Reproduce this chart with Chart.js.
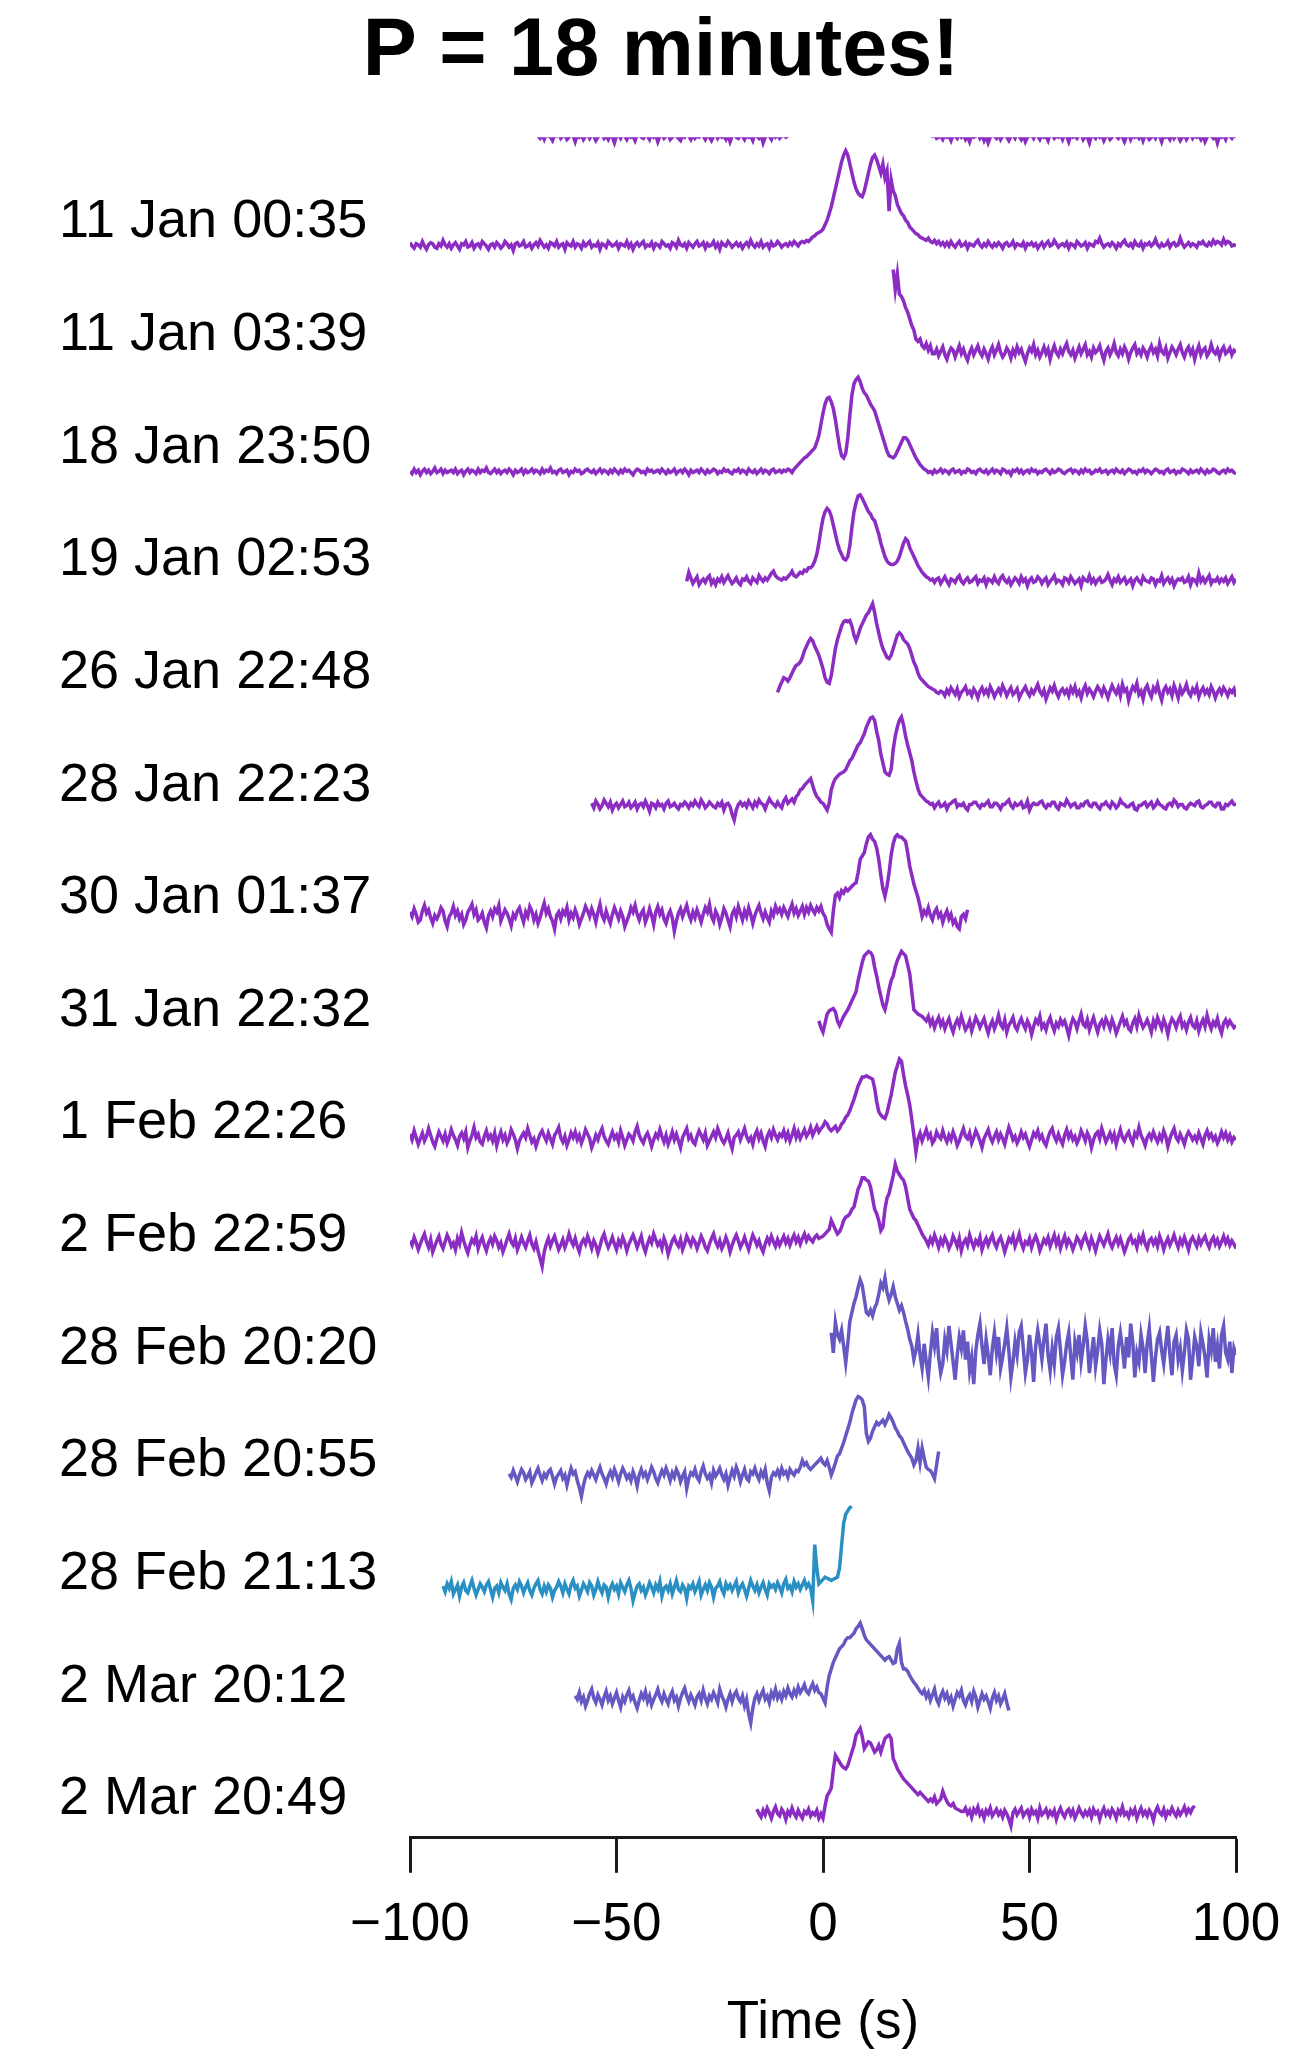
<!DOCTYPE html>
<html lang="en">
<head>
    <meta charset="UTF-8">
    <title>P = 18 minutes!</title>
    <script src="https://cdn.jsdelivr.net/npm/chart.js"></script>
    <style>
        html, body { margin: 0; padding: 0; background: #fff; }
        .wrap { width: 1307px; height: 2055px; }
    </style>
</head>
<body>
    <div class="wrap"><canvas id="pulseChart"></canvas></div>

    <script>
        // one label per observed pulse, top to bottom
        const rowLabels = [
            '11 Jan 00:35', '11 Jan 03:39', '18 Jan 23:50', '19 Jan 02:53', '26 Jan 22:48',
            '28 Jan 22:23', '30 Jan 01:37', '31 Jan 22:32', '1 Feb 22:26', '2 Feb 22:59',
            '28 Feb 20:20', '28 Feb 20:55', '28 Feb 21:13', '2 Mar 20:12', '2 Mar 20:49'
        ];

        // first sample time (s) of every trace (index 0 is the one cut off at the top)
        const rowStarts = [-69, -100, 17, -100, -33, -11, -56, -100, -1, -100, -100, 2, -76, -92, -60, -16];
        const sampleStep = 0.5; // seconds between samples

        const timeTicks = [-100, -50, 0, 50, 100];

        // flux, in hundredths of the row spacing (one line = 10 s)
        const flux00 = [
            -3,-5,-2,-6,-1,-3,-4,-7,-2,-3,-1,-5,-3,-2,-6,-4,-1,-3,-8,-2,
            -4,-2,-6,-3,-1,-5,-2,-3,-7,-4,-2,-1,-5,-3,-6,-2,-4,-9,-3,-2,
            -5,-1,-3,-6,-2,-4,-3,-7,-2,-1,-4,-5,-2,-3,-6,-1,-4,-2,-8,-3,
            -2,-5,-3,-1,-6,-4,-2,-3,-5,-7,-2,-4,-1,-3,-6,-2,-5,-3,-4,-1,
            -3,-6,-2,-4,-7,-3,-1,-5,-2,-4,-3,-6,-2,-8,-3,-1,-4,-5,-2,-3,
            -6,-2,-4,-3,-7,-1,-3,-5,-2,-9,-4,-2,-3,-6,-1,-4,-2,-5,-3,-2,
            -4,-3,-1,2,5,8,12,16,20,24,28,33,38,42,47,52,56,60,64,68,
            70,72,74,76,78,80,79,76,74,70,68,66,68,72,75,78,80,80,78,76,
            74,70,66,62,58,54,50,46,42,38,34,30,28,25,22,18,16,14,12,10,
            9,8,7,6,5,4,3,2,1,0,-1,-3,-2,-5,-4,-3,-6,-2,-4,-3,
            -7,-2,-3,-5,-1,-4,-2,-6,-3,-8,-2,-4,-3,-1,-5,-2,-7,-3,-9,-4,
            -2,-3,-5,-1,-6,-3,-2,-4,-7,-3,-2,-5,-1,-3,-6,-2,-8,-4,-3,-2,
            -5,-1,-3,-6,-2,-4,-3,-7,-1,-2,-5,-3,-4,-2,-6,-1,-3,-8,-2,-4,
            -3,-5,-2,-1,-6,-3,-4,-9,-2,-3,-5,-1,-4,-2,-7,-3,-2,-6,-4,-1,
            -3,-5,-2,-4,-8,-3,-1,-6,-2,-4,-3,-5,-1,-7,-2,-3,-6,-4,-2,-5,
            -1,-3,-8,-2,-4,-3,-6,-1,-5,-2,-3,-7,-4,-2,-6,-3,-1,-5,-2,-4,
            -3,-6,-2,-8,-4,-1,-3,-5,-2,-9,-3,-4,-2,-6,-1,-3,-5,-2,-4
        ];
        const flux01 = [
            2,-1,-3,1,0,-2,3,-1,-4,0,2,1,-2,-3,1,-1,4,0,-2,1,
            -3,0,2,-1,-4,1,0,3,-2,-1,2,-3,0,1,-2,3,1,-1,-4,0,
            1,-2,2,0,-3,-1,3,1,-2,0,-5,1,2,-1,0,3,-2,-1,1,-3,
            0,2,-1,4,1,-2,0,-3,2,1,-1,3,-2,0,1,-4,2,0,-1,3,
            -2,1,0,-3,2,-1,1,3,-2,0,-1,2,-4,1,0,-2,3,1,-1,0,
            2,-3,1,0,-1,3,-2,1,-4,0,2,-1,1,3,-2,0,-1,2,-3,1,
            0,-2,3,1,-1,0,-3,2,1,-2,4,0,-1,1,-3,2,0,-2,1,3,
            -1,0,2,-3,1,-1,0,3,-2,1,-4,2,0,-1,3,1,-2,0,2,-1,
            1,-3,0,2,-1,4,0,-2,1,-1,3,-2,0,1,-3,2,-1,0,3,1,
            -2,0,1,-1,2,0,3,1,-1,2,3,2,4,3,5,7,8,10,11,12,
            14,18,22,28,34,42,50,58,66,74,80,84,80,72,64,56,50,46,44,43,
            48,56,64,72,78,80,76,70,64,72,60,66,30,58,48,44,36,32,28,26,
            22,20,16,14,12,10,9,7,6,5,4,6,3,2,4,1,3,0,2,-1,
            2,-1,3,0,-2,1,3,-1,0,2,-3,1,0,-1,2,4,0,-2,1,-1,
            3,0,-2,1,-1,2,0,-3,1,2,-1,0,3,-2,1,0,-1,2,-3,1,
            0,2,-1,1,-3,0,2,-2,1,3,-1,0,4,1,-2,0,1,-1,2,-3,
            1,0,-2,3,1,-1,0,2,-3,1,0,-1,3,2,6,1,-2,0,1,-1,
            2,0,-3,1,-1,2,4,0,-1,1,-2,3,0,-1,2,-3,1,0,2,-1,
            1,5,0,-2,1,-1,0,3,-2,1,2,-1,0,6,1,-2,0,2,-1,1,
            0,-2,2,1,3,0,-1,2,0,4,1,3,2,0,5,1,3,2,-1,0,
            -1
        ];
        const flux02 = [
            78,60,74,56,54,50,44,40,34,28,24,16,14,16,10,8,12,6,10,3,
            3,7,1,5,9,2,-2,4,8,6,0,5,10,3,7,1,-3,4,8,2,
            6,10,4,1,7,3,-2,5,9,2,6,11,4,0,3,8,5,-1,6,2,
            9,4,7,1,-4,3,8,5,11,2,6,0,4,9,3,7,-2,5,10,4,
            1,7,3,8,12,5,2,6,-1,4,9,3,7,11,2,5,0,8,4,6,
            10,3,-3,5,8,2,6,12,4,1,7,3,9,5,-2,4,8,11,3,6,
            2,8,5,0,6,10,4,7,1,12,5,3,8,-1,4,9,6,2,7,11,
            4,0,6,9,3,7,-2,5,10,2,6,8,1,4,11,5,3,7,0,6,
            9,3,5,8,2,6,4
        ];
        const flux03 = [
            -2,-4,0,-3,-1,-5,-2,0,-3,-1,-4,-2,1,-3,-2,0,-4,-1,-3,-2,
            -1,-3,0,-4,-2,-1,-5,-2,0,-3,-1,-2,-4,0,-3,-1,-2,1,-3,-4,
            -2,0,-3,-1,-4,-2,-1,-3,0,-2,-5,-1,-3,-2,0,-4,-1,-3,-2,0,
            -3,-1,-2,-4,0,-3,-1,-2,1,-3,-2,-4,-1,0,-3,-2,-1,-5,-2,-3,
            0,-2,-1,-4,-3,-1,0,-2,-3,-1,-4,-2,0,-3,-1,-2,-4,-1,-3,0,
            -2,-4,-1,-3,0,-2,-1,-3,-5,-2,0,-1,-3,-2,-4,0,-2,-1,-3,-2,
            -1,-3,0,-2,-4,-1,-3,-2,0,-4,-2,-1,-3,0,-2,-5,-1,-3,-2,-1,
            -3,0,-2,-4,-1,-3,-2,0,-1,-4,-2,-3,0,-2,-1,-3,-4,-1,-2,0,
            -3,-1,-2,-4,0,-2,-3,-1,-4,-2,0,-3,-1,-2,-4,-1,0,-3,-2,-1,
            -3,-1,-2,0,-1,-3,0,2,4,6,8,10,11,13,15,17,19,24,30,40,
            50,58,63,64,60,54,44,32,20,12,10,14,28,48,66,76,80,82,78,72,
            68,66,62,58,55,52,46,40,34,28,22,16,12,11,10,12,16,20,24,28,
            28,26,22,18,14,10,7,4,2,0,-1,-3,-2,-4,-1,-3,-2,0,-3,-1,
            -2,-4,-1,0,-3,-2,-1,-4,-2,-3,0,-1,-3,-2,-4,-1,0,-2,-3,-1,
            -4,-2,0,-3,-1,-2,-4,0,-1,-3,-2,-5,-1,-2,0,-3,-1,-4,-2,-1,
            -3,0,-2,-1,-4,-2,-3,-1,0,-2,-4,-1,-3,-2,0,-1,-3,-4,-2,-1,
            0,-3,-1,-2,-4,-1,-3,0,-2,-1,-4,-3,-1,-2,0,-3,-2,-1,-4,-2,
            -1,-3,0,-2,-3,-1,-4,-2,0,-1,-3,-2,-4,-1,-2,0,-3,-1,-2,-4,
            -2,0,-1,-3,-2,-4,-1,0,-3,-2,-1,-4,-2,-3,0,-1,-2,-4,-1,-3,
            -2,-1,-3,0,-2,-4,-1,-3,-2,0,-1,-3,-4,-2,-1,-3,0,-2,-1,-3,
            -4
        ];
        const flux04 = [
            0,8,3,-2,1,4,-3,0,2,-1,3,5,-2,1,-3,2,0,4,-1,2,
            5,1,-2,0,3,-1,-3,2,1,4,0,-2,3,1,-1,5,2,0,3,1,
            4,7,9,5,3,2,1,3,2,4,6,9,5,4,6,8,7,10,9,12,
            12,14,18,24,34,46,56,62,65,63,58,50,42,34,28,24,20,19,22,32,
            48,62,70,76,77,74,70,66,62,60,56,54,48,42,34,28,22,18,16,15,
            15,16,18,22,28,34,38,36,30,26,22,18,14,11,8,6,4,3,1,2,
            -1,2,3,-2,1,4,0,-3,2,1,-1,3,5,0,-2,1,3,-1,0,2,
            4,-2,1,0,3,-3,2,1,-1,4,0,-2,3,5,1,-1,2,-3,0,3,
            1,-2,4,0,2,-4,1,3,-1,0,4,2,-2,1,3,-3,0,2,5,-1,
            1,0,-3,3,2,-1,4,1,-2,0,2,-4,3,1,0,5,-1,2,-2,1,
            3,-1,0,2,6,1,-3,2,0,4,-1,1,3,-2,0,2,-4,1,3,0,
            -2,4,1,0,-1,3,2,-3,1,0,5,-2,1,3,-1,2,-4,0,2,1,
            3,-1,0,4,-3,2,1,-2,7,0,3,-1,2,5,-2,1,0,3,-1,2,
            0,3,-2,1,4,-1,2
        ];
        const flux05 = [
            1,6,10,14,13,11,14,18,22,25,26,28,32,38,42,46,49,47,42,38,
            34,28,22,14,10,9,16,28,40,48,54,60,64,65,64,65,60,52,47,52,
            58,62,66,70,72,76,80,72,62,54,46,40,36,32,31,34,40,46,52,54,
            52,48,46,44,40,34,28,24,18,14,12,10,8,6,5,4,3,1,0,2,
            1,-2,3,0,5,2,-1,4,-3,1,3,6,0,2,-2,4,1,-4,2,5,
            0,3,-1,6,2,-3,1,4,0,7,3,-2,2,5,-1,1,4,-4,0,3,
            6,1,-2,3,0,4,8,2,-1,3,-5,0,5,2,7,1,-3,2,4,0,
            3,-2,5,1,6,-1,2,-4,3,7,0,4,1,-3,2,6,3,-1,5,1,
            -4,2,7,3,0,5,-2,8,2,4,-6,1,6,3,9,-1,2,-5,4,7,
            1,-3,5,2,8,0,-6,3,6,1,4,-2,7,2,-4,5,0,3,8,1,
            -2,4,1,6,-3,2,5,0,3,-1,6,2,-4,1,4,0,5,2,-2,3,
            1,4,-3
        ];
        const flux06 = [
            2,-2,4,1,-3,0,5,2,-1,3,-4,0,2,-2,1,4,-1,0,3,-2,
            0,3,-3,1,2,-1,4,0,-5,2,1,-2,3,0,1,-3,2,4,-1,0,
            2,-1,-3,1,0,3,1,-2,2,0,4,1,-1,5,2,-2,0,3,1,-1,
            -2,2,0,3,-4,1,2,-1,-8,-13,-4,1,3,0,2,-1,4,1,-2,3,
            0,5,2,1,-3,2,6,3,1,-1,3,0,-2,4,7,2,4,6,3,8,
            10,14,15,18,20,22,24,18,12,8,6,3,2,-1,-4,2,14,20,24,26,
            28,29,30,32,36,40,42,46,50,54,56,60,64,70,74,78,79,76,66,58,
            46,38,30,28,27,32,50,62,70,76,79,72,62,54,47,40,30,22,15,10,
            8,6,4,3,1,2,-2,1,3,-1,0,2,-3,1,2,4,5,-1,1,0,
            2,-2,-4,1,1,3,3,0,-2,1,0,2,4,-1,-1,2,2,0,-3,1,
            1,3,5,0,-2,2,0,1,3,-2,-1,4,-4,0,2,1,1,3,4,0,
            -2,1,0,3,3,-1,-3,2,1,0,5,2,-1,1,2,-2,-2,1,0,3,
            4,0,-1,2,2,-1,-3,1,1,3,0,-2,3,1,-2,0,5,2,1,-1,
            -1,1,2,-3,-4,0,0,2,3,-1,1,3,-2,0,4,1,0,-2,-3,1,
            2,0,5,3,-1,1,1,-2,-3,0,2,1,0,3,4,-1,-2,0,1,3,
            3,0,-1,2,2,-3,-3,1,0,2,4,1,1
        ];
        const flux07 = [
            5,1,8,3,-4,-2,6,11,4,7,0,-5,2,-1,3,9,6,-3,-8,1,
            4,10,2,6,-1,3,-6,-2,5,8,12,3,7,-2,0,4,-4,-9,2,6,
            1,8,5,11,-3,2,7,4,-1,-7,3,0,6,9,2,-4,5,1,10,6,
            -2,3,-5,0,7,13,4,8,1,-3,-10,2,5,-1,6,3,9,-2,4,0,
            7,2,-6,-1,4,10,6,1,8,3,-4,5,12,2,-2,6,0,-5,3,9,
            4,-1,6,1,-8,-3,2,9,5,11,3,-2,4,7,-4,1,8,2,-6,5,
            10,3,7,-1,-5,2,6,0,-12,-3,4,8,1,6,11,3,-2,5,0,7,
            2,-4,3,9,5,12,1,-3,6,2,-6,0,8,4,-2,-8,3,7,1,10,
            4,-2,6,1,9,3,-5,2,7,11,4,-1,5,0,-4,6,2,10,5,8,
            3,9,5,1,7,12,4,8,2,6,10,3,9,5,11,7,4,9,6,10,
            4,1,-6,-10,-13,6,20,22,18,24,22,26,24,26,28,30,31,40,52,55,
            58,66,72,74,70,68,62,52,38,26,19,28,40,56,66,72,74,72,72,70,
            68,58,46,38,30,24,18,10,1,6,3,9,2,-2,5,8,1,4,-4,2,
            6,-1,3,-5,-2,-8,-10,1,3,-1,7
        ];
        const flux08 = [
            8,2,-2,6,14,17,18,19,16,8,4,8,12,15,18,22,26,30,34,44,
            52,60,66,68,70,69,66,56,48,38,30,22,18,26,36,44,48,56,62,66,
            70,68,66,58,50,34,18,16,14,13,12,10,8,12,5,9,2,7,11,4,
            8,1,6,10,3,-2,5,9,4,12,6,0,3,8,-1,5,11,7,2,6,
            10,3,-3,4,8,1,6,13,5,2,9,-2,4,7,11,3,0,6,10,5,
            1,8,4,-4,3,9,6,12,2,5,0,7,11,4,-1,6,3,9,5,8,
            2,-5,4,10,7,1,8,14,5,3,9,0,6,11,4,-2,5,8,3,10,
            6,1,9,4,-3,2,7,12,5,8,1,-1,6,10,3,13,7,2,5,9,
            4,-2,8,3,11,6,1,9,4,-4,5,10,7,2,8,12,3,6,0,7,
            11,4,2,8,-1,5,9,3,13,6,1,7,4,10,2,-3,6,9,4,8,
            5,2,4
        ];
        const flux09 = [
            7,2,10,4,-2,3,8,1,5,12,6,0,-4,3,9,5,1,7,-1,4,
            11,6,2,-3,5,8,3,9,-5,1,6,13,4,7,0,-2,5,10,3,6,
            1,8,-3,4,9,2,6,-1,3,11,7,2,-6,1,5,8,4,12,6,0,
            3,-4,2,7,10,5,1,8,3,-2,6,9,13,4,0,5,-3,2,8,4,
            9,2,6,-1,4,11,7,3,-5,0,6,2,8,12,5,1,-2,4,9,3,
            6,0,10,4,-3,2,7,5,1,9,14,6,2,-1,5,8,3,-4,2,7,
            4,11,5,0,6,-2,3,9,2,7,1,-5,4,8,12,3,6,0,-2,5,
            10,6,2,8,-3,1,5,9,4,12,7,2,-1,3,8,0,-6,4,6,9,
            2,7,12,5,1,4,-2,6,10,3,8,1,-4,5,9,4,11,6,2,7,
            5,10,3,8,1,6,12,4,9,3,7,11,5,8,13,6,10,14,9,12,
            14,18,16,12,10,12,14,10,12,16,18,22,24,28,33,38,44,50,54,58,
            58,59,58,57,56,48,36,27,24,22,21,26,34,42,52,62,68,74,72,60,
            50,42,33,20,6,-9,3,8,1,6,11,4,7,-1,2,9,5,3,10,4,
            0,6,2,9,4,-3,1,7,12,5,3,8,-1,4,10,6,1,-5,3,7,
            11,4,0,5,9,2,7,3,-2,6,13,8,2,5,-1,3,9,4,7,1,
            -4,2,8,5,10,3,6,0,-3,4,9,12,5,1,7,2,-2,6,11,4,
            8,2,5,-1,3,10,6,1,8,4,-5,2,7,9,3,12,6,0,4,8,
            2,7,-2,5,11,4,1,6,9,3,-1,8,5,13,6,2,-3,4,7,3,
            9,4,0,6,2,10,5,-4,3,8,12,4,1,7,3,-2,5,9,6,2,
            5,1,8,3,-2,6,10,4,7,2,5,-1,3,9,4,8,2,6,0,4,
            2
        ];
        const flux10 = [
            12,8,15,10,4,9,14,18,11,6,13,2,7,12,16,9,5,11,17,13,
            7,10,4,14,9,19,12,6,1,8,13,10,16,5,11,15,8,3,10,14,
            9,16,12,6,10,2,7,13,18,11,8,14,4,9,15,10,6,12,17,9,
            5,11,3,-4,-11,2,9,14,7,12,16,10,4,8,13,6,11,18,12,8,
            14,7,2,10,13,9,16,11,5,12,8,1,7,14,18,11,6,10,15,9,
            4,12,8,15,10,3,9,13,17,12,6,11,16,7,2,9,14,10,18,13,
            8,11,5,14,9,0,6,12,15,10,7,13,4,9,16,12,8,14,11,5,
            10,16,12,6,3,9,14,18,11,7,12,5,9,15,10,2,8,13,17,12,
            6,10,15,9,4,11,17,13,8,12,6,2,9,14,10,16,11,7,13,8,
            12,16,10,14,8,13,17,11,15,9,14,18,12,16,13,11,15,17,14,15,
            16,18,20,22,30,26,22,18,20,24,30,33,34,36,40,42,50,58,62,68,
            68,66,65,60,50,40,36,30,21,24,40,50,54,62,70,80,74,71,68,66,
            60,50,40,36,32,30,26,22,18,15,12,8,14,10,17,12,6,13,9,15,
            11,5,9,16,12,7,14,3,10,13,8,17,11,6,12,9,15,4,10,14,
            8,13,17,10,6,12,15,9,2,8,14,11,16,7,12,18,10,5,11,9,
            14,6,12,16,11,3,8,13,10,15,7,12,17,9,14,5,11,16,8,13,
            10,4,9,15,12,7,13,17,11,6,14,9,3,10,16,12,8,13,18,10,
            6,11,15,9,14,8,2,7,13,16,10,12,6,15,11,17,9,5,12,14,
            9,13,7,16,11,4,10,14,8,12,17,11,6,13,9,15,10,4,12,15,
            11,7,14,9,13,16,10,6,12,15,9,13,7,11,16,10,14,8,12,9,
            5
        ];
        const flux11 = [
            30,12,39,28,24,32,18,3,20,40,48,56,62,70,77,72,60,48,46,50,
            45,52,56,64,74,70,79,66,59,64,71,62,56,50,54,48,40,33,24,18,
            6,14,28,10,-2,20,4,-10,12,30,18,34,8,-6,2,24,14,36,20,4,
            -12,10,26,16,32,6,22,-4,8,-16,14,28,38,18,2,24,10,-8,16,30,
            12,26,-2,8,20,34,14,-10,4,22,10,30,36,16,-6,6,28,12,-14,18,
            32,20,6,24,38,10,-4,16,2,26,34,14,-8,4,20,30,8,-12,22,12,
            28,4,18,36,22,-6,10,26,0,14,32,20,-16,6,24,12,34,2,-8,18,
            30,16,-2,26,8,38,22,-10,12,4,28,16,-6,20,34,10,-14,8,24,30,
            14,2,20,36,10,-8,22,28,6,16,-4,12,32,24,-12,6,26,18,0,30,
            20,8,-10,24,14,34,4,18,-2,28,36,12,6,22,-6,16,10
        ];
        const flux12 = [
            4,1,7,2,-3,3,8,5,-1,2,6,-4,0,5,9,3,-2,4,1,6,
            8,2,-5,1,4,7,0,3,-6,2,9,4,6,-2,-8,-16,-6,1,5,2,
            7,3,-1,5,10,4,0,-5,2,6,1,8,3,-3,4,9,5,0,3,-2,
            6,1,-7,3,8,2,5,-1,4,10,6,0,-4,2,7,3,9,4,-2,5,
            1,8,4,-3,2,6,-9,0,5,3,8,1,-2,6,11,4,0,3,-4,7,
            2,5,9,3,-1,4,-6,1,7,2,10,5,-3,3,8,0,-2,6,4,9,
            3,-1,6,2,8,-4,-11,1,5,3,7,2,9,4,6,1,8,5,3,7,
            6,10,16,12,14,10,8,10,12,14,16,18,14,12,16,10,3,8,14,20,
            22,27,32,38,44,50,58,64,70,73,72,70,64,40,33,36,42,46,50,48,
            50,52,48,52,57,54,50,45,42,38,36,32,28,24,21,18,12,16,27,14,
            27,18,10,8,7,4,0,12,24
        ];
        const flux13 = [
            4,-1,6,2,8,-3,1,5,-5,3,7,0,-2,4,9,2,-4,1,6,3,
            -1,5,8,1,-6,2,4,-2,7,3,0,6,-3,-8,2,5,1,8,4,-2,
            3,7,0,-4,2,6,9,1,-3,4,-1,5,2,-6,0,3,8,4,-2,6,
            1,-3,5,9,2,4,-5,0,6,3,-1,7,4,-4,1,8,2,-2,5,3,
            -6,2,6,1,4,-3,7,3,-1,5,9,2,-9,-2,4,6,0,3,-4,1,
            7,3,-2,5,1,8,-5,2,4,0,6,-3,3,9,1,-1,5,2,-7,4,
            2,6,-1,3,8,-4,1,5,0,7,3,-6,2,4,8,1,-3,6,2,5,
            0,4,8,-2,3,6,1,-5,2,9,4,0,5,-2,3,7,1,-4,6,3,
            5,1,7,3,-2,6,10,2,4,-1,8,3,6,1,5,9,3,6,2,-9,
            41,20,6,8,10,12,11,10,9,10,11,12,20,40,60,68,71,74,75
        ];
        const flux14 = [
            6,3,9,1,5,-3,2,8,12,4,0,7,3,-2,5,10,2,6,-1,4,
            9,2,-4,5,1,7,11,3,6,0,-5,2,8,4,10,1,6,-2,3,7,
            12,5,1,8,3,-1,6,10,2,5,-3,4,9,13,6,1,7,3,-2,5,
            8,2,11,4,-1,6,3,9,5,0,12,6,2,-4,3,8,1,7,10,4,
            1,6,-3,3,-10,-18,-5,4,8,2,7,11,3,6,0,9,5,12,4,8,
            3,10,6,13,8,5,11,7,14,9,12,16,10,8,13,17,11,14,9,8,
            4,0,14,24,30,36,40,44,48,50,52,56,58,58,60,62,66,68,71,66,
            60,56,54,52,50,48,46,44,42,40,38,40,41,38,35,36,48,53,36,30,
            30,28,24,21,18,16,13,10,8,11,5,9,2,7,12,3,-1,6,10,4,
            8,1,5,-3,3,9,6,11,2,-2,4,7,1,10,5,-4,2,8,3,6,
            1,-5,4,9,2,6,-1,3,8,0,-7
        ];
        const flux15 = [
            5,1,-2,4,0,6,2,-3,3,7,1,-1,5,2,-4,3,0,6,1,-2,
            4,0,-3,3,1,5,-1,2,0,4,-3,1,-3,8,17,20,24,40,53,50,
            47,44,42,41,44,50,56,62,71,74,77,70,59,62,65,64,60,56,58,62,
            56,62,68,70,71,68,50,46,41,38,35,32,30,28,26,24,22,20,18,20,
            18,16,14,12,14,12,16,10,12,14,21,16,12,9,8,10,6,5,4,3,
            3,6,1,4,-2,5,2,7,0,3,-3,4,1,6,-1,2,5,0,3,-2,
            4,1,-4,-10,2,5,0,3,6,-1,2,4,-2,5,1,3,-3,6,0,2,
            5,-1,3,0,4,-4,2,6,1,-2,3,5,0,4,-3,1,6,2,-1,3,
            0,4,-2,5,1,3,-4,2,6,0,3,-1,5,2,-3,4,1,7,0,2,
            -2,4,1,5,-3,2,6,0,3,-1,4,1,-5,3,7,2,0,5,-2,3,
            1,6,2,-1,4,0,3,7,1,5,2,6,8
        ];

        const traces = [flux00, flux01, flux02, flux03, flux04, flux05, flux06, flux07,
                        flux08, flux09, flux10, flux11, flux12, flux13, flux14, flux15];

        const purple = '#8B2CC3';
        const violet = '#6558C2';
        const teal = '#2A90C4';
        const traceColors = [purple, purple, purple, purple, purple, purple, purple, purple,
                             purple, purple, purple, violet, violet, teal, violet, purple];

        const rowGap = 100;   // vertical offset between traces
        const fontFamily = '"Liberation Sans", Arial, Helvetica, sans-serif';

        const datasets = traces.map((flux, row) => ({
            data: flux.map((v, i) => ({ x: rowStarts[row] + i * sampleStep, y: v - row * rowGap })),
            borderColor: traceColors[row],
            borderWidth: 3.5,
            pointRadius: 0,
            tension: 0,
            fill: false
        }));

        const minus = v => v < 0 ? '\u2212' + Math.abs(v) : String(v);

        new Chart(document.getElementById('pulseChart'), {
            type: 'line',
            data: { datasets },
            options: {
                responsive: true,
                maintainAspectRatio: false,
                animation: false,
                devicePixelRatio: 1,
                layout: { padding: { left: 59, right: 44, top: 0, bottom: 0 } },
                plugins: {
                    legend: { display: false },
                    tooltip: { enabled: false },
                    title: {
                        display: true,
                        text: 'P = 18 minutes!',
                        color: '#000',
                        font: { family: fontFamily, size: 81, weight: 'bold' },
                        padding: { top: 4, bottom: 36 }
                    }
                },
                scales: {
                    x: {
                        type: 'linear',
                        min: -100,
                        max: 100,
                        afterBuildTicks: scale => {
                            scale.ticks = timeTicks.map(v => ({ value: v }));
                        },
                        grid: {
                            drawOnChartArea: false,
                            drawTicks: true,
                            tickLength: 35,
                            tickWidth: 3,
                            tickColor: '#1a1a1a'
                        },
                        border: { display: true, color: '#1a1a1a', width: 3 },
                        ticks: {
                            callback: v => minus(v),
                            color: '#000',
                            padding: 21,
                            maxRotation: 0,
                            autoSkip: false,
                            font: { family: fontFamily, size: 53 }
                        },
                        title: {
                            display: true,
                            text: 'Time (s)',
                            color: '#000',
                            font: { family: fontFamily, size: 53 },
                            padding: { top: 13, bottom: 0 }
                        }
                    },
                    y: {
                        type: 'linear',
                        min: -1520.5,
                        max: -4,
                        afterBuildTicks: scale => {
                            // labels sit a little above each trace's baseline
                            scale.ticks = rowLabels.map((_, i) => ({ value: -(i + 1) * rowGap + 20 - 0.45 * i }));
                        },
                        afterFit: scale => { scale.width = 351; },
                        grid: { display: false },
                        border: { display: false },
                        ticks: {
                            callback: (v, idx) => rowLabels[idx],
                            crossAlign: 'far',
                            autoSkip: false,
                            color: '#000',
                            font: { family: fontFamily, size: 54 }
                        }
                    },
                    spacer: {
                        type: 'linear',
                        position: 'right',
                        display: true,
                        grid: { display: false },
                        border: { display: false },
                        ticks: { display: false },
                        afterFit: scale => { scale.width = 27; }
                    }
                }
            }
        });
    </script>
</body>
</html>
